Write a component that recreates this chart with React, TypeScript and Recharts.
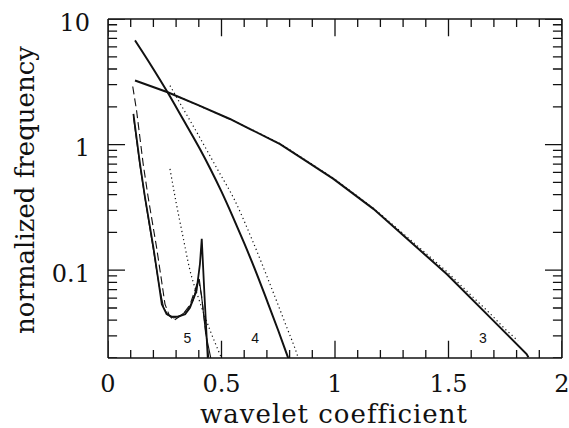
import React from "react";
import { LineChart, Line, XAxis, YAxis, ReferenceDot, ReferenceLine } from "recharts";

// axis ticks: majors carry labels, minors are bare marks
const xMajor = [0, 0.5, 1, 1.5, 2];
const xMinor = [0.1, 0.2, 0.3, 0.4, 0.6, 0.7, 0.8, 0.9, 1.1, 1.2, 1.3, 1.4, 1.6, 1.7, 1.8, 1.9];
const yMajor = [0.1, 1, 10];
const yMinor = [
  0.02, 0.03, 0.04, 0.05, 0.06, 0.07, 0.08, 0.09,
  0.2, 0.3, 0.4, 0.5, 0.6, 0.7, 0.8, 0.9,
  2, 3, 4, 5, 6, 7, 8, 9,
];

// scale 3
const scale3Measured: [number, number][] = [
  [0.119, 3.24], [0.263, 2.61], [0.4, 2.05], [0.537, 1.6], [0.626, 1.33],
  [0.758, 1.01], [0.87, 0.746], [0.993, 0.533], [1.169, 0.308], [1.33, 0.17],
  [1.492, 0.0933], [1.683, 0.0421], [1.844, 0.0215], [1.852, 0.0203],
];
const scale3Model: [number, number][] = [
  [0.3, 2.45], [0.537, 1.6], [0.758, 1.02], [0.993, 0.54], [1.169, 0.312],
  [1.33, 0.176], [1.492, 0.0977], [1.6, 0.063], [1.683, 0.0452], [1.75, 0.0339],
  [1.806, 0.0274],
];

// scale 4
const scale4Measured: [number, number][] = [
  [0.119, 6.76], [0.19, 4.27], [0.263, 2.6], [0.33, 1.6], [0.405, 0.923],
  [0.45, 0.646], [0.5, 0.422], [0.55, 0.266], [0.6, 0.164], [0.65, 0.0989],
  [0.7, 0.0575], [0.75, 0.0331], [0.79, 0.0209], [0.8, 0.0186],
];
const scale4Model: [number, number][] = [
  [0.273, 2.95], [0.317, 2.14], [0.4, 1.175], [0.48, 0.646], [0.559, 0.358],
  [0.64, 0.166], [0.72, 0.0724], [0.78, 0.038], [0.838, 0.02], [0.845, 0.0182],
];

// scale 5 (three realisations + model)
const scale5A: [number, number][] = [
  [0.112, 1.76], [0.141, 0.701], [0.163, 0.38], [0.2, 0.152], [0.222, 0.0824],
  [0.237, 0.0537], [0.258, 0.0447], [0.28, 0.0427], [0.31, 0.0427], [0.34, 0.0447],
  [0.361, 0.0501], [0.39, 0.0687], [0.405, 0.112], [0.413, 0.178], [0.425, 0.0631],
  [0.44, 0.0191],
];
const scale5B: [number, number][] = [
  [0.112, 1.66], [0.141, 0.676], [0.165, 0.355], [0.2, 0.145], [0.225, 0.0759],
  [0.245, 0.0501], [0.265, 0.0437], [0.29, 0.0417], [0.32, 0.0437], [0.35, 0.0479],
  [0.375, 0.0575], [0.392, 0.0759], [0.402, 0.0851], [0.415, 0.0562], [0.43, 0.0316],
  [0.455, 0.0191],
];
const scale5C: [number, number][] = [
  [0.109, 2.9], [0.126, 1.86], [0.155, 0.701], [0.177, 0.38], [0.214, 0.152],
  [0.236, 0.0824], [0.251, 0.0537], [0.27, 0.0437], [0.29, 0.0398], [0.33, 0.0447],
  [0.36, 0.0525], [0.385, 0.0708], [0.398, 0.0851], [0.412, 0.0631], [0.445, 0.0191],
];
const scale5Model: [number, number][] = [
  [0.273, 0.64], [0.3, 0.347], [0.33, 0.186], [0.361, 0.1], [0.4, 0.0589],
  [0.45, 0.0331], [0.5, 0.02],
];

const curveLabels = [
  { x: 0.35, y: 0.029, text: "5" },
  { x: 0.648, y: 0.029, text: "4" },
  { x: 1.651, y: 0.029, text: "3" },
];

const toPts = (arr: [number, number][]) => arr.map(([x, y]) => ({ x, y }));

const INK = "#111";
const SERIF = "'DejaVu Serif', serif";
const tickFont = { fontFamily: SERIF, fontSize: 24, fill: INK };
const frame = { stroke: INK, strokeWidth: 1.5 };

const X0 = 0, X1 = 2, Y0 = 0.02, Y1 = 10;
// inward tick lengths in axis units (x: linear units, y: log factor)
const XLEN_MINOR = 0.04, XLEN_MAJOR = 0.075;
const YFAC_MINOR = 1.16, YFAC_MAJOR = 1.37;

type Pt = { x: number; y: number | null };
// tick marks as short broken polylines (null breaks the path between ticks)
const vTicks = (vals: number[], base: number, tip: number): Pt[] =>
  vals.flatMap((v) => [{ x: v, y: base }, { x: v, y: tip }, { x: v, y: null }]);
const hTicks = (vals: number[], base: number, tip: number): Pt[] =>
  vals.flatMap((v) => [{ x: base, y: v }, { x: tip, y: v }, { x: tip, y: null }]);

const tickSets: Pt[][] = [
  vTicks(xMinor, Y0, Y0 * YFAC_MINOR),
  vTicks(xMajor, Y0, Y0 * YFAC_MAJOR),
  vTicks(xMinor, Y1, Y1 / YFAC_MINOR),
  vTicks(xMajor, Y1, Y1 / YFAC_MAJOR),
  hTicks(yMinor, X0, X0 + XLEN_MINOR),
  hTicks(yMajor, X0, X0 + XLEN_MAJOR),
  hTicks(yMinor, X1, X1 - XLEN_MINOR),
  hTicks(yMajor, X1, X1 - XLEN_MAJOR),
];

const main = { xAxisId: "b", yAxisId: "l", dataKey: "y", stroke: INK, dot: false, isAnimationActive: false } as const;

export default function App() {
  return (
    <div style={{ position: "absolute", left: 0, top: 0, width: 569, height: 428, background: "#fff" }}>
      <LineChart width={569} height={428} margin={{ top: 19, right: 7, bottom: 0, left: 0 }}>
        <XAxis xAxisId="b" type="number" dataKey="x" domain={[X0, X1]} ticks={xMajor} interval={0} height={70}
          tickSize={0} tickMargin={17} tickLine={false} tick={tickFont} axisLine={frame} allowDataOverflow />
        <YAxis yAxisId="l" type="number" scale="log" domain={[Y0, Y1]} ticks={yMajor} interval={0} width={108}
          tickSize={0} tickMargin={18} tickLine={false} tick={{ ...tickFont, dy: 3 }} axisLine={frame} allowDataOverflow />

        {/* top and right sides of the frame */}
        <ReferenceLine xAxisId="b" yAxisId="l" y={Y1} stroke={INK} strokeWidth={1.5} ifOverflow="visible" />
        <ReferenceLine xAxisId="b" yAxisId="l" x={X1} stroke={INK} strokeWidth={1.5} ifOverflow="visible" />

        {tickSets.map((pts, i) => (
          <Line key={`tick-${i}`} {...main} data={pts} strokeWidth={1.3} connectNulls={false} legendType="none" />
        ))}

        <Line {...main} data={toPts(scale3Model)} strokeWidth={1.2} strokeDasharray="1.2 3" />
        <Line {...main} type="monotone" data={toPts(scale4Model)} strokeWidth={1.2} strokeDasharray="1.2 3" />
        <Line {...main} type="monotone" data={toPts(scale5Model)} strokeWidth={1.2} strokeDasharray="1.2 3" />
        <Line {...main} data={toPts(scale5C)} strokeWidth={1.1} strokeDasharray="8 4" />
        <Line {...main} data={toPts(scale5B)} strokeWidth={1.1} />
        <Line {...main} data={toPts(scale5A)} strokeWidth={1.8} />
        <Line {...main} type="monotone" data={toPts(scale4Measured)} strokeWidth={2} />
        <Line {...main} data={toPts(scale3Measured)} strokeWidth={2} />

        {curveLabels.map((c) => (
          <ReferenceDot
            key={c.text}
            xAxisId="b"
            yAxisId="l"
            x={c.x}
            y={c.y}
            r={0}
            fill="none"
            stroke="none"
            label={{ value: c.text, position: "center", fontSize: 14, fill: INK, fontFamily: "'Liberation Sans', Arial, sans-serif" }}
          />
        ))}
      </LineChart>
      <svg width={569} height={428} style={{ position: "absolute", left: 0, top: 0, pointerEvents: "none" }}>
        <text x={334} y={423} textAnchor="middle" fontFamily={SERIF} fontSize={26} letterSpacing={1} fill={INK}>
          wavelet coefficient
        </text>
        <text
          x={0}
          y={0}
          transform="translate(34 190) rotate(-90)"
          textAnchor="middle"
          fontFamily={SERIF}
          fontSize={26}
          fill={INK}
        >
          normalized frequency
        </text>
      </svg>
    </div>
  );
}
